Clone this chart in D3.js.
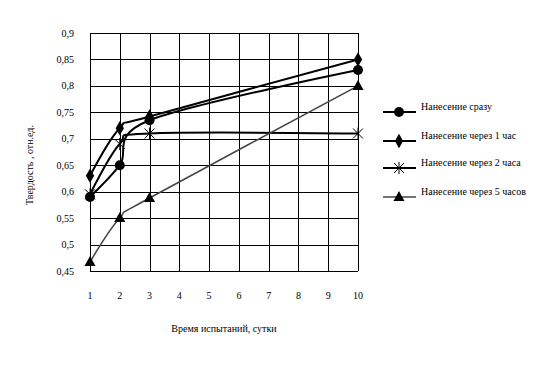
<!DOCTYPE html>
<html>
<head>
<meta charset="utf-8">
<script src="https://cdn.jsdelivr.net/npm/d3@7"></script>
<style>
	body { margin: 0; background: #fff; }
	text { font-family: 'Liberation Serif', 'DejaVu Serif', serif; font-size: 10px; fill: #000; }
</style>
</head>
<body>
<div id="chart"></div>
<script>
var days = [1, 2, 3, 10];
var xTicks = [1, 2, 3, 4, 5, 6, 7, 8, 9, 10];
var yTicks = [0.45, 0.5, 0.55, 0.6, 0.65, 0.7, 0.75, 0.8, 0.85, 0.9];

var seriesNames = ['Нанесение сразу', 'Нанесение через  1 час', 'Нанесение через  2 часа', 'Нанесение через  5 часов'];
var valuesNow = [0.59, 0.65, 0.735, 0.83];
var values1h = [0.63, 0.72, 0.742, 0.85];
var values2h = [0.595, 0.69, 0.71, 0.71];
var values5h = [0.467, 0.55, 0.588, 0.8];

var xTitle = 'Время испытаний, сутки';
var yTitle = 'Твердость , отн.ед.';

var series = [
	{ name: seriesNames[0], values: valuesNow, marker: 'circle', stroke: '#000', width: 2 },
	{ name: seriesNames[1], values: values1h, marker: 'diamond', stroke: '#000', width: 2 },
	{ name: seriesNames[2], values: values2h, marker: 'star', stroke: '#000', width: 2 },
	{ name: seriesNames[3], values: values5h, marker: 'triangle', stroke: '#444', width: 1.5 }
];

var svg = d3.select('#chart').append('svg').attr('width', 544).attr('height', 366);

var x = d3.scaleLinear().domain([1, 10]).range([90, 358]);
var y = d3.scaleLinear().domain([0.45, 0.9]).range([271, 33]);

var fmt = function(v) { return d3.format('.2~f')(v).replace('.', ','); };

// grid
var grid = svg.append('g');
grid.selectAll('line.v').data(xTicks).enter().append('line')
	.attr('x1', function(d) { return Math.round(x(d)) + 0.5; })
	.attr('x2', function(d) { return Math.round(x(d)) + 0.5; })
	.attr('y1', y(0.9)).attr('y2', y(0.45))
	.attr('stroke', '#000').attr('stroke-width', 1);
grid.selectAll('line.h').data(yTicks).enter().append('line')
	.attr('y1', function(d) { return Math.round(y(d)) + 0.5; })
	.attr('y2', function(d) { return Math.round(y(d)) + 0.5; })
	.attr('x1', x(1)).attr('x2', x(10))
	.attr('stroke', '#000').attr('stroke-width', 1);

// tick labels
svg.append('g').selectAll('text').data(yTicks).enter().append('text')
	.attr('x', 74).attr('y', function(d) { return y(d) + 3.5; })
	.attr('text-anchor', 'end')
	.text(fmt);
svg.append('g').selectAll('text').data(xTicks).enter().append('text')
	.attr('x', function(d) { return x(d); }).attr('y', 299)
	.attr('text-anchor', 'middle')
	.text(function(d) { return d; });

svg.append('text').attr('x', 224).attr('y', 332).attr('text-anchor', 'middle').text(xTitle);
svg.append('text').attr('transform', 'translate(33,165) rotate(-90)').attr('text-anchor', 'middle').text(yTitle);

var line = d3.line()
	.x(function(d, i) { return x(days[i]); })
	.y(function(d) { return y(d); })
	.curve(d3.curveCatmullRom.alpha(0));

function drawMarker(g, type) {
	if (type === 'circle') {
		g.append('circle').attr('r', 5).attr('fill', '#000');
	} else if (type === 'diamond') {
		g.append('path').attr('d', d3.symbol(d3.symbolDiamond, 60)()).attr('fill', '#000');
	} else if (type === 'triangle') {
		g.append('path').attr('d', 'M0,-6L5.5,4L-5.5,4Z').attr('fill', '#000');
	} else {
		g.append('path').attr('d', 'M-5,-5L5,5M-5,5L5,-5M0,-6L0,6')
			.attr('stroke', '#000').attr('stroke-width', 1).attr('fill', 'none');
	}
}

var linesG = svg.append('g');
series.forEach(function(s) {
	linesG.append('path')
		.attr('d', line(s.values))
		.attr('fill', 'none')
		.attr('stroke', s.stroke)
		.attr('stroke-width', s.width);
});
series.forEach(function(s) {
	s.values.forEach(function(v, i) {
		var g = linesG.append('g').attr('transform', 'translate(' + x(days[i]) + ',' + y(v) + ')');
		drawMarker(g, s.marker);
	});
});

// legend
var legendY = [112, 141, 168, 197];
var legend = svg.append('g');
series.forEach(function(s, i) {
	var g = legend.append('g').attr('transform', 'translate(0,' + legendY[i] + ')');
	g.append('line').attr('x1', 383).attr('x2', 416).attr('y1', 0).attr('y2', 0)
		.attr('stroke', s.stroke).attr('stroke-width', s.width);
	drawMarker(g.append('g').attr('transform', 'translate(399,0)'), s.marker);
	g.append('text').attr('x', 421).attr('y', -2).text(s.name);
});
</script>
</body>
</html>
